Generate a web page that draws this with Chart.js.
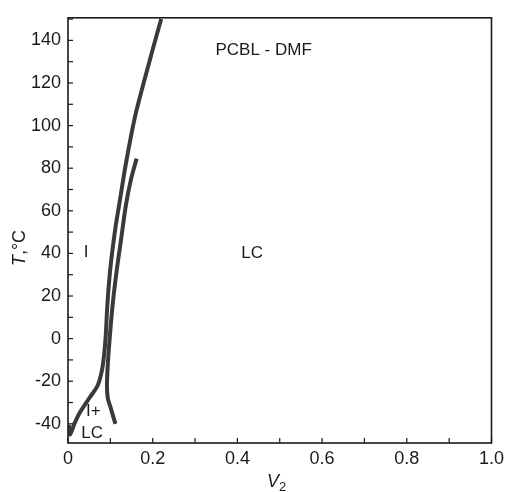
<!DOCTYPE html>
<html>
<head>
<meta charset="utf-8">
<script src="https://cdn.jsdelivr.net/npm/chart.js@4.4.1/dist/chart.umd.min.js"></script>
<style>
  body { margin: 0; background: #fff; }
  #wrap { width: 509px; height: 492px; }
</style>
</head>
<body>
<div id="wrap"><canvas id="myChart" width="509" height="492"></canvas></div>
<script>
// phase boundary, left branch (I / I+LC)
var leftX = [0.002, 0.005, 0.015, 0.027, 0.050, 0.070, 0.080, 0.085, 0.089, 0.093, 0.100, 0.112, 0.121, 0.137, 0.158, 0.180, 0.199, 0.220];
var leftY = [-40.5, -45, -40, -35, -28, -22, -15, -8, 1, 16, 33, 52, 63, 82.5, 104, 121, 135, 150];
// phase boundary, right branch (I+LC / LC)
var rightX = [0.162, 0.149, 0.137, 0.126, 0.115, 0.106, 0.099, 0.094, 0.092, 0.094, 0.100, 0.112];
var rightY = [84.5, 75, 63, 47.5, 32, 17, 1.5, -12, -22, -28, -32, -40];

var xTickLabels = ["0", "0.2", "0.4", "0.6", "0.8", "1.0"];
var yTickLabels = ["-40", "-20", "0", "20", "40", "60", "80", "100", "120", "140"];

// text labels inside the plot
var regionText = ["PCBL - DMF", "I", "LC", "I+", "LC"];
var regionX = [0.462, 0.043, 0.435, 0.060, 0.057];
var regionY = [135.5, 40.5, 40, -34, -44.6];

function toPoints(xs, ys) {
  var pts = [];
  for (var i = 0; i < xs.length; i++) pts.push({x: xs[i], y: ys[i]});
  return pts;
}

var ink = '#1a1a1a';
var font = '"Liberation Sans", sans-serif';

var framePlugin = {
  id: 'frame',
  afterDraw: function(chart) {
    var ctx = chart.ctx, a = chart.chartArea;
    var xs = chart.scales.x, ys = chart.scales.y;
    ctx.save();
    ctx.strokeStyle = ink;
    ctx.lineWidth = 1.6;
    ctx.strokeRect(a.left, a.top, a.right - a.left, a.bottom - a.top);
    // inward ticks
    ctx.lineWidth = 1.2;
    ys.ticks.forEach(function(t) {
      var p = ys.getPixelForValue(t.value);
      ctx.beginPath(); ctx.moveTo(a.left, p); ctx.lineTo(a.left + 5, p); ctx.stroke();
    });
    xs.ticks.forEach(function(t) {
      var p = xs.getPixelForValue(t.value);
      ctx.beginPath(); ctx.moveTo(p, a.bottom); ctx.lineTo(p, a.bottom - 5); ctx.stroke();
    });
    // region labels
    ctx.fillStyle = ink;
    ctx.font = '17px ' + font;
    ctx.textAlign = 'center';
    ctx.textBaseline = 'middle';
    for (var i = 0; i < regionText.length; i++) {
      ctx.fillText(regionText[i], xs.getPixelForValue(regionX[i]), ys.getPixelForValue(regionY[i]));
    }
    // axis titles
    ctx.font = 'italic 18px ' + font;
    ctx.textAlign = 'left';
    ctx.fillText('V', 267, 482);
    ctx.font = '13px ' + font;
    ctx.fillText('2', 279, 487);
    ctx.translate(20, 248);
    ctx.rotate(-Math.PI / 2);
    ctx.font = 'italic 18px ' + font;
    var w1 = ctx.measureText('T').width;
    ctx.font = '18px ' + font;
    var w2 = ctx.measureText(',°C').width;
    var start = -(w1 + w2) / 2;
    ctx.font = 'italic 18px ' + font;
    ctx.fillText('T', start, 0);
    ctx.font = '18px ' + font;
    ctx.fillText(',°C', start + w1, 0);
    ctx.restore();
  }
};

function curve(pts, color, width) {
  return {
    data: pts,
    showLine: true,
    borderColor: color,
    borderWidth: width,
    pointRadius: 0,
    tension: 0.3,
    fill: false
  };
}

var ctx = document.getElementById('myChart').getContext('2d');
var chart = new Chart(ctx, {
  type: 'scatter',
  data: {
    datasets: [
      curve(toPoints(leftX, leftY), '#3a3a3a', 4),
      curve(toPoints(rightX, rightY), '#3a3a3a', 4),
      curve(toPoints(leftX, leftY), '#a8a8a8', 1.2),
      curve(toPoints(rightX, rightY), '#a8a8a8', 1.2)
    ]
  },
  options: {
    responsive: false,
    animation: false,
    layout: { padding: { top: 9, right: 4, left: 0, bottom: 0 } },
    plugins: { legend: { display: false }, tooltip: { enabled: false } },
    scales: {
      x: {
        type: 'linear',
        min: 0, max: 1,
        afterFit: function(s) { s.height = 49; },
        grid: { display: false, drawTicks: false },
        border: { display: false },
        ticks: {
          stepSize: 0.1,
          padding: 5,
          color: ink,
          font: { family: font, size: 18 },
          maxRotation: 0,
          autoSkip: false,
          callback: function(v) {
            var k = Math.round(v * 10);
            return k % 2 === 0 ? xTickLabels[k / 2] : '';
          }
        }
      },
      y: {
        type: 'linear',
        min: -49, max: 150.6,
        afterFit: function(s) { s.width = 68; },
        grid: { display: false, drawTicks: false },
        border: { display: false },
        ticks: {
          stepSize: 10,
          includeBounds: false,
          padding: 7,
          color: ink,
          font: { family: font, size: 18 },
          autoSkip: false,
          callback: function(v) {
            var k = Math.round(v);
            return k % 20 === 0 ? yTickLabels[(k + 40) / 20] : '';
          }
        }
      }
    }
  },
  plugins: [framePlugin]
});
</script>
</body>
</html>
